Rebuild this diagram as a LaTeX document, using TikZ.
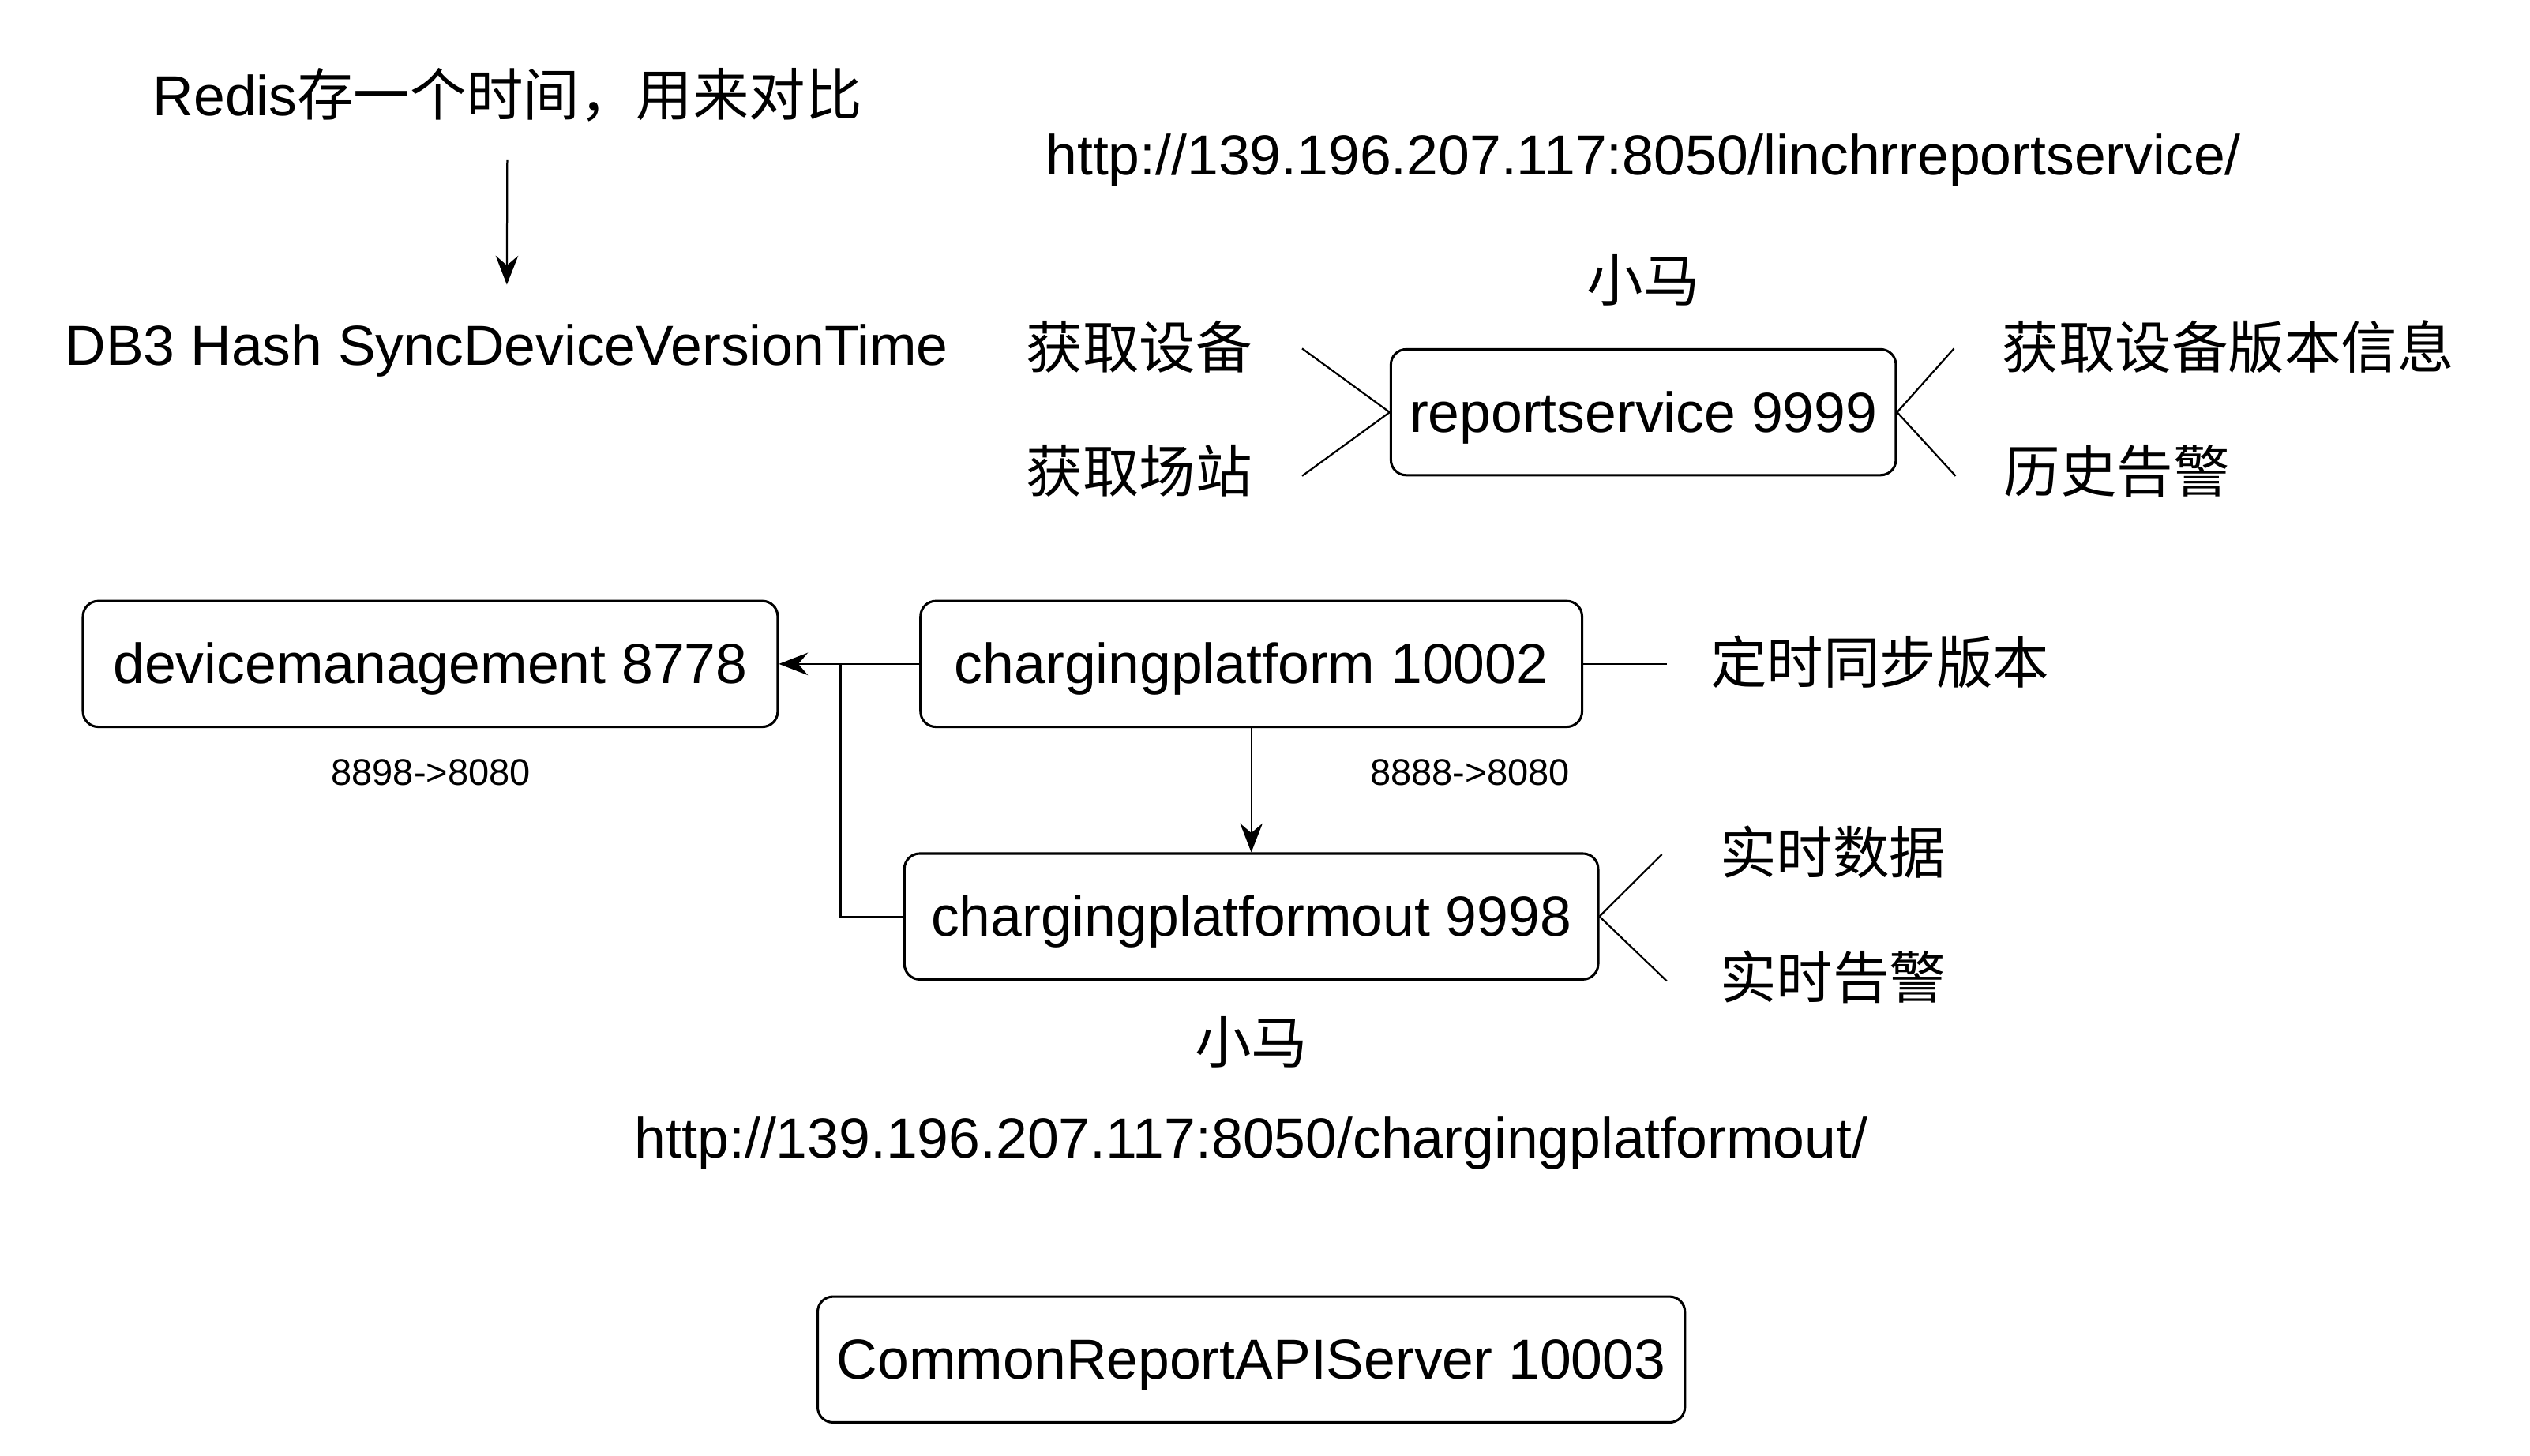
\documentclass[tikz,border=0pt]{standalone}
\usepackage{fontspec}
\setmainfont{Liberation Sans}
\newfontfamily\cjk{Noto Sans CJK SC}
\newcommand\bigtxt{\fontsize{17.5pt}{21pt}\selectfont}
\newcommand\smalltxt{\fontsize{11.5pt}{14pt}\selectfont}
\usetikzlibrary{
  arrows.meta,
  calc,
  positioning,
}
\tikzset{
node distance=2em,
  x = 0.5pt,
  y = -0.5pt,
  n/.style={
    draw, rounded corners=4.75pt, line width=0.75pt,
    minimum height=39pt, inner sep=0pt, font=\bigtxt,
    text height=14.875pt, text depth=2.625pt,
  },
  >={Stealth[length=9pt,width=7pt,inset=3pt]},
}
\begin{document}
\begin{tikzpicture}[
  line width=0.55pt,
  t/.style={font=\bigtxt, inner sep=0pt,
    text height=14.875pt, text depth=2.625pt},
  p/.style={font=\smalltxt, inner sep=0pt},]
  \useasboundingbox (0,0) rectangle (1568,902);
  %%
  \node[t] (Redis) at (314.5,59.5) {Redis\cjk 存一个时间，用来对比};
  \node[t] (Hash) at (314,214) {DB3 Hash SyncDeviceVersionTime};
  \draw[->, shorten <=10.85pt, shorten >=9.75pt] (Redis) -- (Hash);
  %%
  \node[n, minimum width=156.5pt] (Report) at (1018.5,255.5)
  {reportservice 9999};
  \node[t, above=11.75pt of Report] (MaTop) {\cjk 小马};
  \node[t, above=21pt of MaTop] (UrlTop)
  {http://139.196.207.117:8050/linchrreportservice/};
  \node[t] (GetDev) at (706,216) {\cjk 获取设备};
  \node[t] (GetSite) at (706,293) {\cjk 获取场站};
  \node[t] (VerInfo) at (1381,216) {\cjk 获取设备版本信息};
  \node[t] (History) at (1312,293) {\cjk 历史告警};
  %%
  \coordinate (inA) at (807,216);
  \coordinate (inB) at (807,295);
  \coordinate (outA) at (1211,216);
  \coordinate (outB) at (1212,295);
  \draw (inA) -- (Report.west);
  \draw (inB) -- (Report.west);
  \draw (Report.east) -- (outA);
  \draw (Report.east) -- (outB);
  %%
  \node[n, minimum width=215.3pt] (Device) at (266.7,411.5)
  {devicemanagement 8778};
  \node[n, minimum width=205pt] (Charging) at (775.5,411.5)
  {chargingplatform 10002};
  \node[n, minimum width=215pt, below=38.5pt of Charging]
  (ChargingOut) {chargingplatformout 9998};
  \node[p] (PortDev) at (267,479) {8898->8080};
  \node[p] (PortOut) at (911,479) {8888->8080};
  %%
  \node[t] (Sync) at (1165,411.5) {\cjk 定时同步版本};
  \coordinate (syncEnd) at (1033,411.5);
  \draw (Charging.east) -- (syncEnd);
  %%
  \draw[->] (Charging) -- (Device);
  \coordinate (joint) at (521,411.5);
  \draw (ChargingOut) -| (joint);
  \draw[->] (Charging) -- (ChargingOut);
  %%
  \node[t] (RtData) at (1136,529) {\cjk 实时数据};
  \node[t] (RtAlarm) at (1136,606.5) {\cjk 实时告警};
  \coordinate (rtA) at (1030,529.5);
  \coordinate (rtB) at (1033,608);
  \draw (ChargingOut.east) -- (rtA);
  \draw (ChargingOut.east) -- (rtB);
  %%
  \node[t, below=10.35pt of ChargingOut] (MaBottom) {\cjk 小马};
  \node[t, below=11.5pt of MaBottom] (UrlBottom)
  {http://139.196.207.117:8050/chargingplatformout/};
  \node[n, minimum width=268.75pt, below=97.55pt of ChargingOut]
  (Common) {CommonReportAPIServer 10003};
\end{tikzpicture}
\end{document}
